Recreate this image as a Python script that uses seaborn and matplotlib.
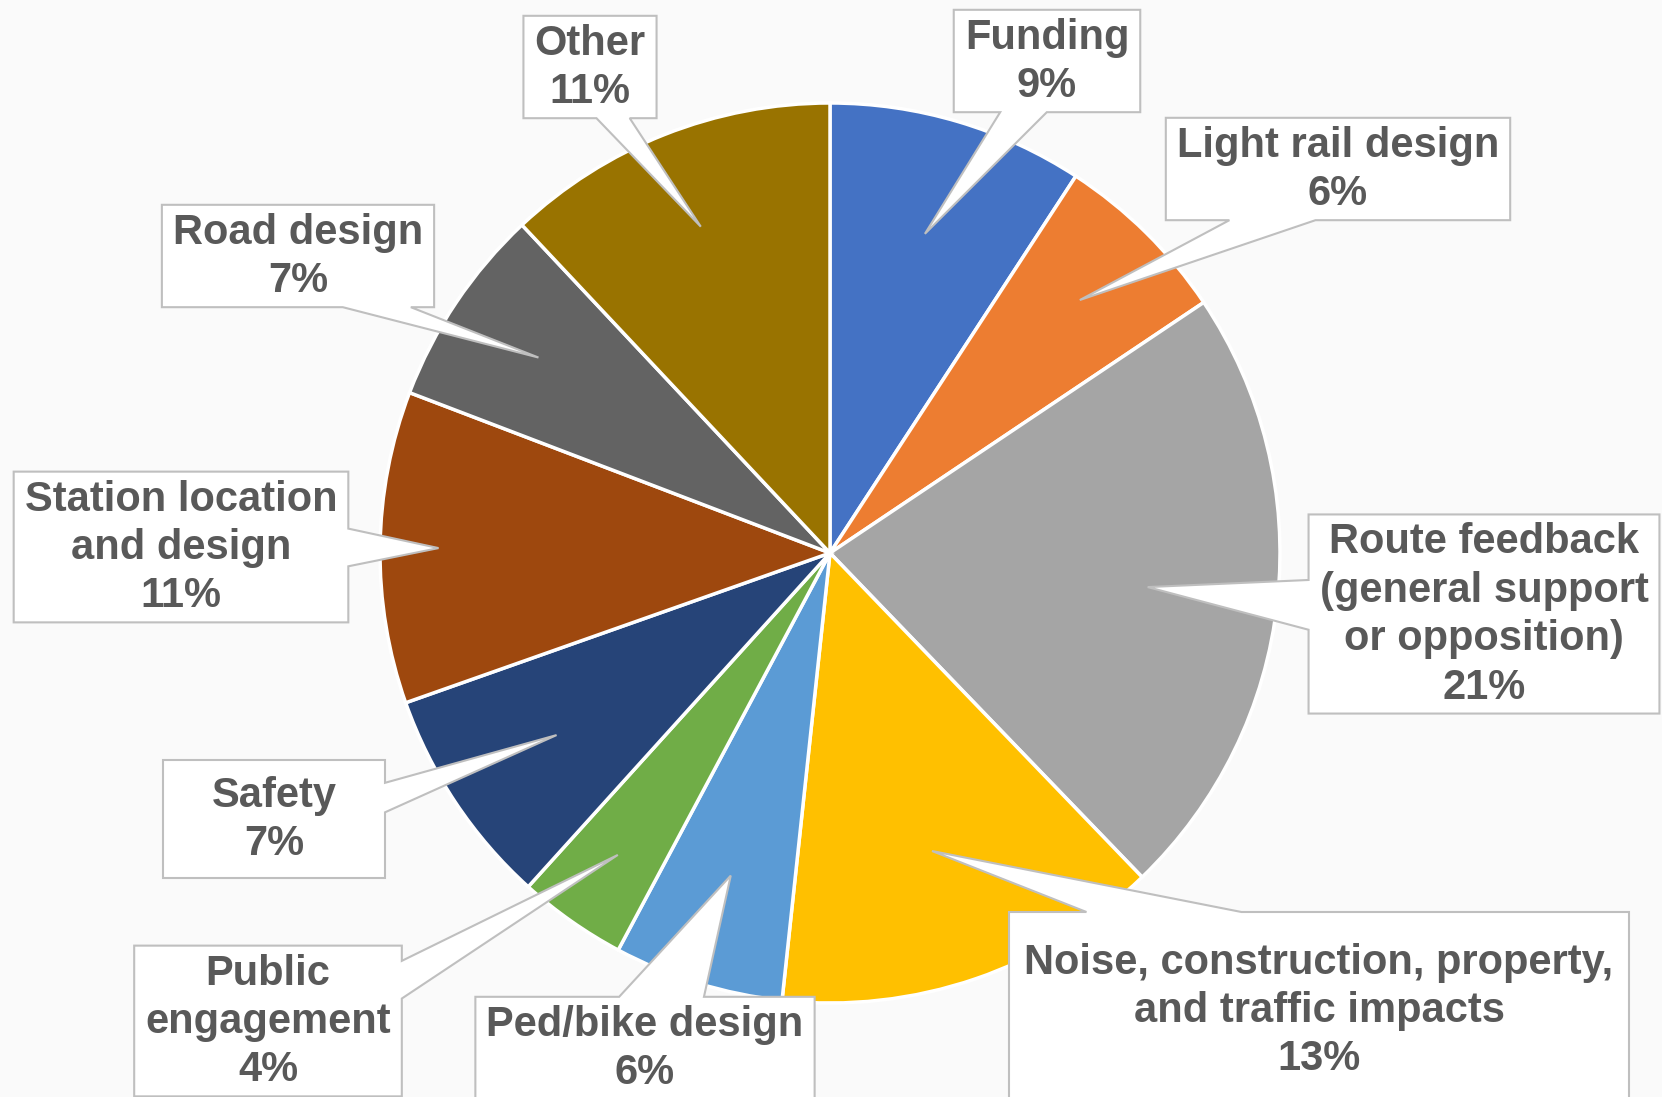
import numpy as np
import matplotlib
matplotlib.use("Agg")
import matplotlib.pyplot as plt
import seaborn as sns
from matplotlib.patches import Polygon

# --- data (clockwise from 12 o'clock) ---
categories = [
    "Funding",
    "Light rail design",
    "Route feedback\n(general support\nor opposition)",
    "Noise, construction, property,\nand traffic impacts",
    "Ped/bike design",
    "Public\nengagement",
    "Safety",
    "Station location\nand design",
    "Road design",
    "Other",
]
shares = [9.2, 6.4, 22.2, 13.9, 6.1, 3.9, 7.9, 11.2, 7.2, 12.0]
pct_labels = ["9%", "6%", "21%", "13%", "6%", "4%", "7%", "11%", "7%", "11%"]
colors = ["#4472C4", "#ED7D31", "#A5A5A5", "#FFC000", "#5B9BD5",
          "#70AD47", "#264478", "#9E480E", "#636363", "#997300"]

# --- layout (pixels, y measured from top) ---
W, H = 1662, 1097
BG = "#FAFAFA"
PIE_CENTER = (830, H - 553)
PIE_R = 450
label_xy = [(1047, 62), (1338, 170), (1484, 615), (1319, 1011), (645, 1049),
            (268, 1022), (274, 820), (181, 548), (298, 257), (590, 68)]
# how far into the slice each pointer reaches (fraction of radius)
tip_frac = [0.74, 0.79, 0.71, 0.70, 0.75, 0.82, 0.73, 0.87, 0.78, 0.78]
# fixed box sizes where the callout is larger than its text
box_size = [None, None, None, (620, 196), None, None, (222, 118), None, None, None]


def callout_polygon(x0, y0, x1, y1, tip):
    """Rectangle with a wedge pointer towards tip (Excel style callout)."""
    cx, cy = (x0 + x1) / 2, (y0 + y1) / 2
    dx, dy = tip[0] - cx, tip[1] - cy
    hw, hh = (x1 - x0) / 2, (y1 - y0) / 2
    tx = hw / abs(dx) if dx else np.inf
    ty = hh / abs(dy) if dy else np.inf
    corners = [(x0, y0), (x1, y0), (x1, y1), (x0, y1)]
    if tx < ty:
        edge = 1 if dx > 0 else 3
    else:
        edge = 0 if dy < 0 else 2
    t = min(tx, ty)
    p = np.array([cx + dx * t, cy + dy * t])
    a = np.array(corners[edge])
    b = np.array(corners[(edge + 1) % 4])
    L = np.linalg.norm(b - a)
    u = (b - a) / L
    s = np.dot(p - a, u)
    s = s + 0.35 * (L / 2 - s)
    h = 0.125 * L
    s = np.clip(s, h + 2, L - h - 2)
    verts = []
    for i in range(4):
        verts.append(corners[i])
        if i == edge:
            verts.append(tuple(a + u * (s - h)))
            verts.append(tip)
            verts.append(tuple(a + u * (s + h)))
    return verts


sns.set_theme(style="white")
plt.rcParams["font.family"] = ["Liberation Sans", "DejaVu Sans"]

fig = plt.figure(figsize=(W / 100, H / 100), dpi=100, facecolor=BG)
ax = fig.add_axes([0, 0, 1, 1])
ax.set_facecolor(BG)

wedges, _ = ax.pie(
    shares,
    colors=sns.color_palette(colors),
    startangle=90,
    counterclock=False,
    radius=PIE_R,
    center=PIE_CENTER,
    wedgeprops=dict(edgecolor="white", linewidth=2.5),
)
ax.set_xlim(0, W)
ax.set_ylim(0, H)
ax.set_aspect("equal")
ax.axis("off")

texts = []
for cat, pct, (lx, ly) in zip(categories, pct_labels, label_xy):
    t = ax.text(lx, H - ly, f"{cat}\n{pct}", ha="center", va="center",
                fontsize=30, fontweight="bold", color="#595959",
                linespacing=1.27, zorder=6)
    texts.append(t)

fig.canvas.draw()
renderer = fig.canvas.get_renderer()
inv = ax.transData.inverted()

for w, t, f, size in zip(wedges, texts, tip_frac, box_size):
    mid = np.deg2rad((w.theta1 + w.theta2) / 2)
    tip = (PIE_CENTER[0] + f * PIE_R * np.cos(mid),
           PIE_CENTER[1] + f * PIE_R * np.sin(mid))
    bb = t.get_window_extent(renderer)
    (x0, y0), (x1, y1) = inv.transform([(bb.x0, bb.y0), (bb.x1, bb.y1)])
    if size is None:
        x0, x1 = x0 - 11, x1 + 11
        y0, y1 = y0 - 6, y1 + 8
    else:
        cx, cy = (x0 + x1) / 2, (y0 + y1) / 2 + 1
        x0, x1 = cx - size[0] / 2, cx + size[0] / 2
        y0, y1 = cy - size[1] / 2, cy + size[1] / 2
    verts = callout_polygon(x0, y0, x1, y1, tip)
    ax.add_patch(Polygon(verts, closed=True, facecolor="white",
                         edgecolor="#BFBFBF", linewidth=1.5, zorder=5))

fig.savefig("out.png", dpi=100, facecolor=BG)
